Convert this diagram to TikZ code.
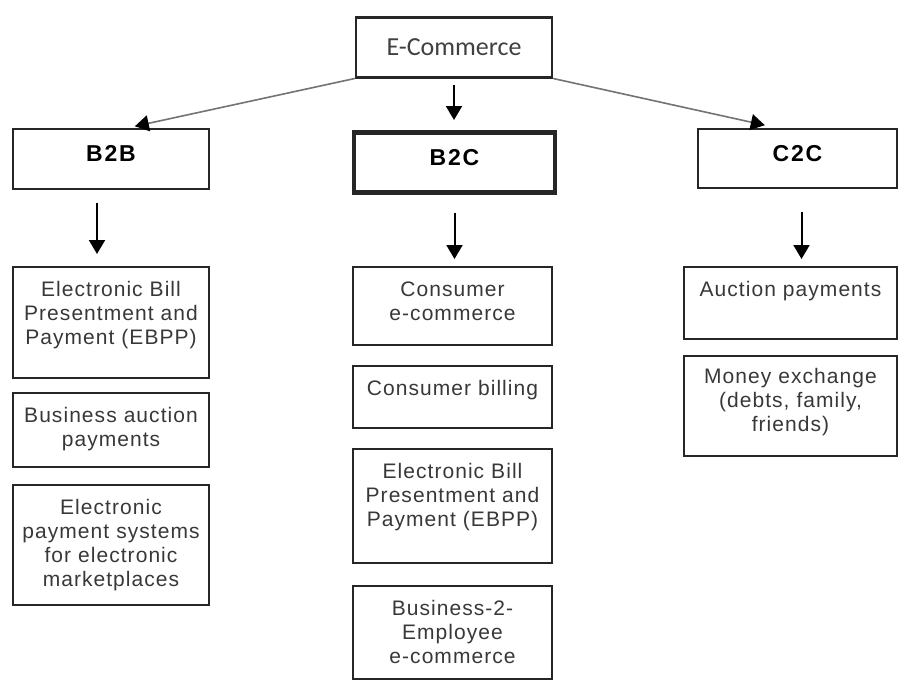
\documentclass[tikz,border=0pt]{standalone}
\usepackage{fontspec}
\setmainfont{Liberation Sans}
\newfontfamily\itemfont{Liberation Sans}[LetterSpace=5]
\newfontfamily\kindfont{Liberation Sans}[LetterSpace=8]
\newfontfamily\headfont{Carlito}
\usepackage{tikz}
\usetikzlibrary{arrows.meta}

\begin{document}
\begin{tikzpicture}[
			x=1pt, y=-1pt,
			every node/.style={align=center, inner sep=0pt, anchor=north},
			arr/.style={draw=black, line width=2pt, -{Triangle[width=16pt,length=14pt]}},
			slant/.style={draw=black!55, line width=1.6pt, -{Triangle[width=16pt,length=14pt,fill=black,color=black]}},
			rootbox/.style={draw=black!85, line width=2.5pt, text width=196pt, text height=38pt, text depth=22pt,
				font=\headfont\fontsize{26pt}{28pt}\selectfont, text=black!75},
			kind/.style={draw=black!85, line width=2pt, text height=32pt, text depth=28pt,
				font=\kindfont\bfseries\fontsize{23pt}{26pt}\selectfont},
			item/.style={draw=black!85, line width=2pt, text height=29pt,
				font=\itemfont\fontsize{21pt}{24pt}\selectfont, text=black!78},
			left item/.style={item, text width=196pt},
			mid item/.style={item, text width=199pt},
			right item/.style={item, text width=213pt},
			]
			
			\useasboundingbox (0,0) rectangle (899,680);
			
			\node[rootbox] (ecom) at (454,16) {E-Commerce};
			
			\node[kind, text width=196pt] (btob) at (111,128) {B2B};
			\node[kind, text width=201pt, line width=4.5pt, text height=33pt, text depth=27pt] (btoc) at (454.5,130) {B2C};
			\node[kind, text width=199pt, text depth=27pt] (ctoc) at (797.5,128) {C2C};
			
			\node[left item, text depth=82pt] (bbEbpp) at (111,266) {Electronic Bill\\Presentment and\\Payment (EBPP)};
			\node[left item, text depth=45pt] (bbAuction) at (111,392) {Business auction\\payments};
			\node[left item, text depth=91pt] (bbSystems) at (111,484) {Electronic\\payment systems\\for electronic\\marketplaces};
			
			\node[mid item, text depth=49pt] (bcConsumer) at (452.5,266) {Consumer\\e-commerce};
			\node[mid item, text depth=33pt] (bcBilling) at (452.5,365) {Consumer billing};
			\node[mid item, text depth=85pt] (bcEbpp) at (452.5,448) {Electronic Bill\\Presentment and\\Payment (EBPP)};
			\node[mid item, text depth=64pt] (bcEmployee) at (452.5,585) {Business-2-\\Employee\\e-commerce};
			
			\node[right item, text depth=43pt] (ccAuction) at (790.5,266) {Auction payments};
			\node[right item, text height=27pt, text depth=73pt] (ccMoney) at (790.5,355) {Money exchange\\(debts, family,\\friends)};
			
			\draw[slant, shorten >=8pt] (ecom.south west) -- ([xshift=16pt]btob.north);
			\draw[slant, shorten >=13pt] (ecom.south east) -- ([xshift=-20pt]ctoc.north);
			\draw[arr, shorten <=6pt, shorten >=10pt] (ecom.south) -- (ecom.south |- btoc.north);
			
			\draw[arr, shorten <=13pt, shorten >=12pt] ([xshift=-14pt]btob.south) -- ([xshift=-14pt]btob.south |- bbEbpp.north);
			\draw[arr, shorten <=18pt, shorten >=7pt] (btoc.south) -- (btoc.south |- bcConsumer.north);
			\draw[arr, shorten <=23pt, shorten >=7pt] ([xshift=4pt]ctoc.south) -- ([xshift=4pt]ctoc.south |- ccAuction.north);
			
		\end{tikzpicture}
\end{document}
